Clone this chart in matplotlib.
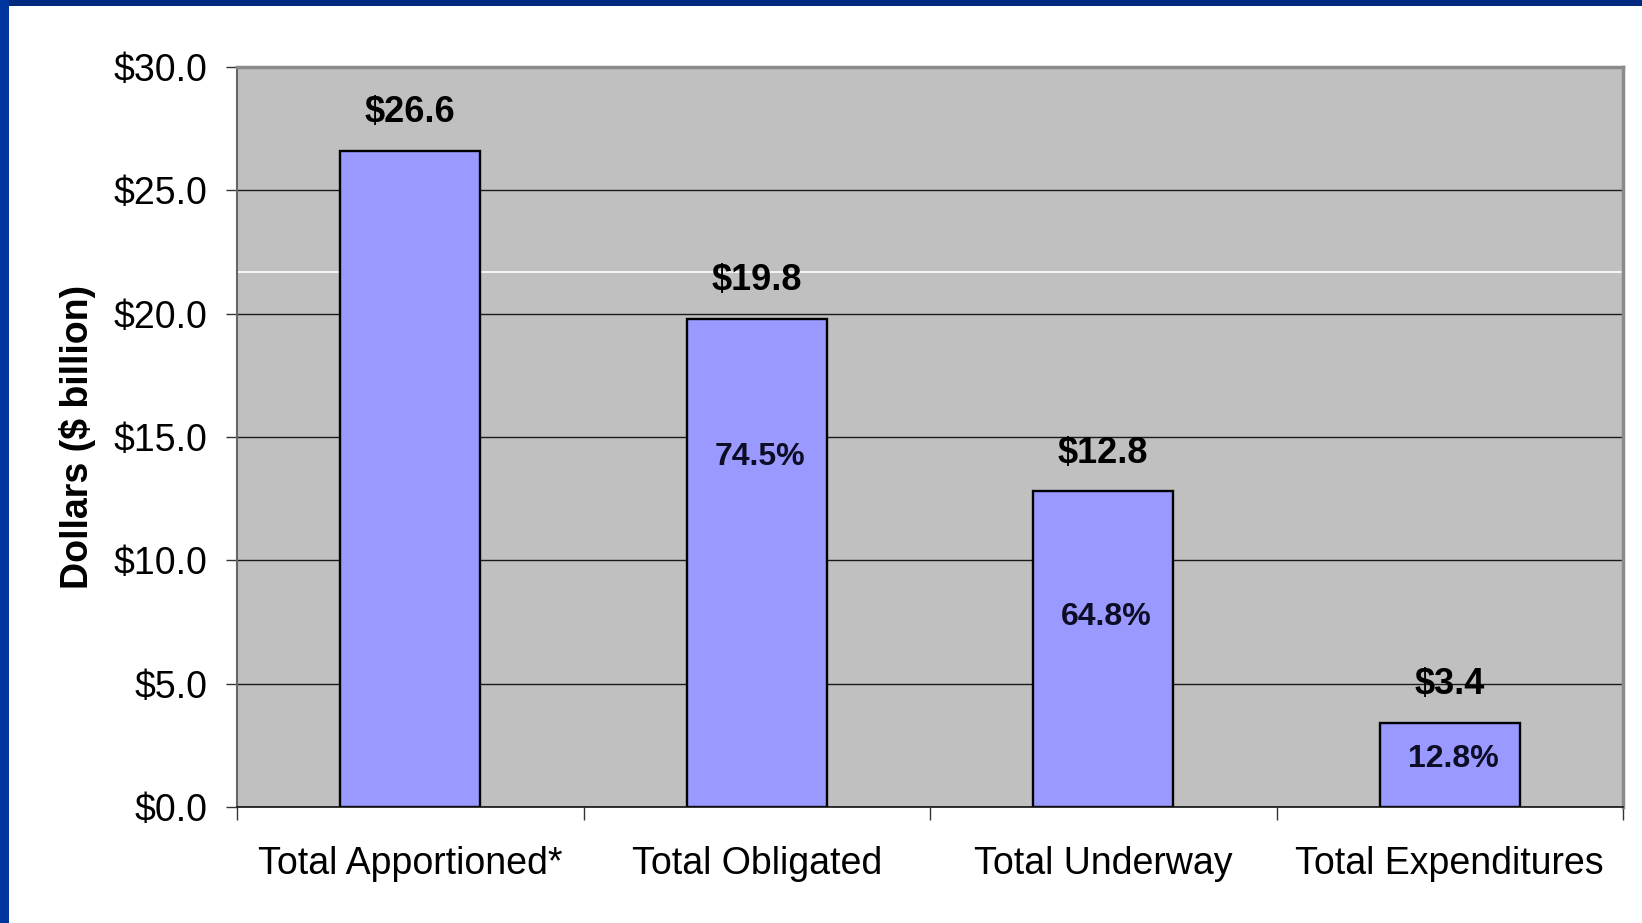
import matplotlib.pyplot as plt
from matplotlib.patches import Rectangle
import numpy as np

categories = ['Total Apportioned*', 'Total Obligated', 'Total Underway', 'Total Expenditures']
values = [26.6, 19.8, 12.8, 3.4]
pct_labels = ['', '74.5%', '64.8%', '12.8%']
# where the % text boxes sit inside the bars (in $ billion)
pct_label_y = [0, 14.2, 7.7, 1.95]

narrow = ['Liberation Sans Narrow', 'Liberation Sans', 'DejaVu Sans']
plt.rcParams['font.family'] = ['Liberation Sans', 'DejaVu Sans']

fig = plt.figure(figsize=(16.42, 9.23), dpi=100)
fig.patch.set_facecolor('white')
ax = fig.add_axes([237 / 1642, 1 - 807 / 923, (1623 - 237) / 1642, (807 - 67) / 923])
ax.set_facecolor('#C0C0C0')

x = np.arange(len(categories))
ax.bar(x, values, width=0.404, color='#9999FF', edgecolor='black', linewidth=1.7, zorder=2)

# gridlines + stray white line from the original slide
ax.set_axisbelow(True)
ax.yaxis.grid(True, color='#1a1a1a', linewidth=1.0)
ax.axhline(21.7, color='white', linewidth=1.2, zorder=1)

for xi, v in zip(x, values):
    ax.annotate(f'${v:.1f}', (xi, v), xytext=(0, 27.5), textcoords='offset points',
                ha='center', va='center', fontsize=26, fontweight='bold', family=narrow)

for xi, lab, ly in zip(x, pct_labels, pct_label_y):
    if lab:
        ax.text(xi + 0.01, ly, lab, ha='center', va='center', fontsize=23,
                fontweight='bold', color='#0d0d26')

ax.set_xlim(-0.5, 3.5)
ax.set_ylim(0, 30)
ax.set_yticks(np.arange(0, 31, 5))
ax.set_yticklabels([f'${t:.1f}' for t in np.arange(0, 31, 5)], family=narrow, fontsize=27)
ax.tick_params(axis='y', direction='out', length=8, width=1, color='#333333', pad=13)

ax.set_xticks(x)
ax.set_xticklabels(categories, family=narrow, fontsize=27)
ax.set_xticks(np.arange(-0.5, 4, 1), minor=True)
ax.tick_params(axis='x', which='major', length=0, pad=28)
ax.tick_params(axis='x', which='minor', direction='out', length=9, width=1, color='#333333')

ax.set_ylabel('Dollars ($ billion)', fontsize=27, fontweight='bold', labelpad=13)

for side in ['top', 'right']:
    ax.spines[side].set_color('#8a8a8a')
    ax.spines[side].set_linewidth(2.5)
ax.spines['left'].set_color('#666666')
ax.spines['left'].set_linewidth(1.5)
ax.spines['bottom'].set_color('#111111')
ax.spines['bottom'].set_linewidth(1.2)

# slide frame: blue band on top and left
fig.add_artist(Rectangle((0, 1 - 6 / 923), 1, 6 / 923, transform=fig.transFigure,
                         facecolor='#002a80', edgecolor='none'))
fig.add_artist(Rectangle((0, 0), 9 / 1642, 1, transform=fig.transFigure,
                         facecolor='#0035a0', edgecolor='none'))

fig.savefig('out.png', dpi=100)
